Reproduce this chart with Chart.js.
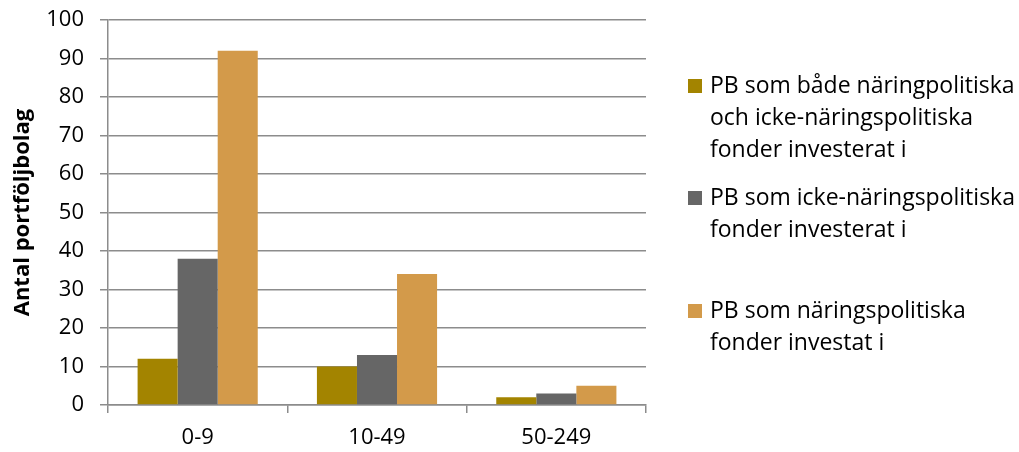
<!DOCTYPE html>
<html lang="sv">
<head>
<meta charset="utf-8">
<title>Antal portföljbolag per storleksklass</title>
<script src="https://cdn.jsdelivr.net/npm/chart.js@4.4.0/dist/chart.umd.min.js"></script>
<style>
  html, body { margin: 0; padding: 0; background: #fff; }
  #wrap { width: 1019px; height: 452px; }
</style>
</head>
<body>
<div id="wrap"><canvas id="chart" width="1019" height="452"></canvas></div>
<script>
// Storleksklasser (antal anställda)
const categories = ['0-9', '10-49', '50-249'];

// Antal portföljbolag per grupp av fonder
const bothFunds = [12, 10, 2];
const nonPolicyFunds = [38, 13, 3];
const policyFunds = [92, 34, 5];

// Legend text, one array per series (wrapped lines)
const seriesLabels = [
    ['PB som både näringpolitiska', 'och icke-näringspolitiska', 'fonder investerat i'],
    ['PB som icke-näringspolitiska', 'fonder investerat i'],
    ['PB som näringspolitiska', 'fonder investat i']
];

const yTitle = 'Antal portföljbolag';
const yMax = 100;
const yStep = 10;

const colors = ['#A38400', '#666666', '#D39A4A'];
const gridColor = '#8C8C8C';
const fontFamily = '"Open Sans", "Liberation Sans", sans-serif';

/**
 * Draws the legend to the right of the plot area, with wrapped lines
 */
const sideLegend = {
    id: 'sideLegend',
    afterDraw(chart) {
        const ctx = chart.ctx;
        const blockTops = [86, 198, 311];
        const lineGap = 32;
        ctx.save();
        ctx.font = '23px ' + fontFamily;
        ctx.textBaseline = 'middle';
        ctx.textAlign = 'left';
        seriesLabels.forEach((lines, i) => {
            const y0 = blockTops[i];
            ctx.fillStyle = colors[i];
            ctx.fillRect(688, y0 - 7, 14, 14);
            ctx.fillStyle = '#000';
            lines.forEach((line, j) => {
                ctx.fillText(line, 710, y0 + j * lineGap);
            });
        });
        ctx.restore();
    }
};

const datasets = [bothFunds, nonPolicyFunds, policyFunds].map((values, i) => ({
    label: seriesLabels[i].join(' '),
    data: values,
    backgroundColor: colors[i],
    borderWidth: 0,
    categoryPercentage: 0.67,
    barPercentage: 1.0
}));

new Chart(document.getElementById('chart'), {
    type: 'bar',
    data: {
        labels: categories,
        datasets: datasets
    },
    options: {
        responsive: false,
        animation: false,
        layout: {
            padding: { top: 20, right: 373, left: 0, bottom: 0 }
        },
        plugins: {
            legend: { display: false },
            tooltip: { enabled: false }
        },
        scales: {
            x: {
                grid: {
                    offset: true,
                    drawOnChartArea: false,
                    drawTicks: true,
                    tickLength: 8,
                    color: gridColor,
                    lineWidth: 1.5
                },
                border: { color: gridColor, width: 1.5 },
                ticks: {
                    color: '#000',
                    padding: 12,
                    font: { family: fontFamily, size: 22 }
                },
                afterFit(scale) { scale.height = 47; }
            },
            y: {
                min: 0,
                max: yMax,
                grid: {
                    color: gridColor,
                    lineWidth: 1.5,
                    tickLength: 8
                },
                border: { color: gridColor, width: 1.5 },
                ticks: {
                    stepSize: yStep,
                    color: '#000',
                    padding: 16,
                    font: { family: fontFamily, size: 22 }
                },
                title: {
                    display: true,
                    text: yTitle,
                    color: '#000',
                    padding: { top: 10, bottom: 0 },
                    font: { family: fontFamily, size: 22, weight: 'bold' }
                },
                afterFit(scale) {
                    // fixed axis width, and no extra room for the top label
                    scale.width = 108;
                    scale.paddingTop = 0;
                    scale.paddingBottom = 0;
                }
            }
        }
    },
    plugins: [sideLegend]
});
</script>
</body>
</html>
